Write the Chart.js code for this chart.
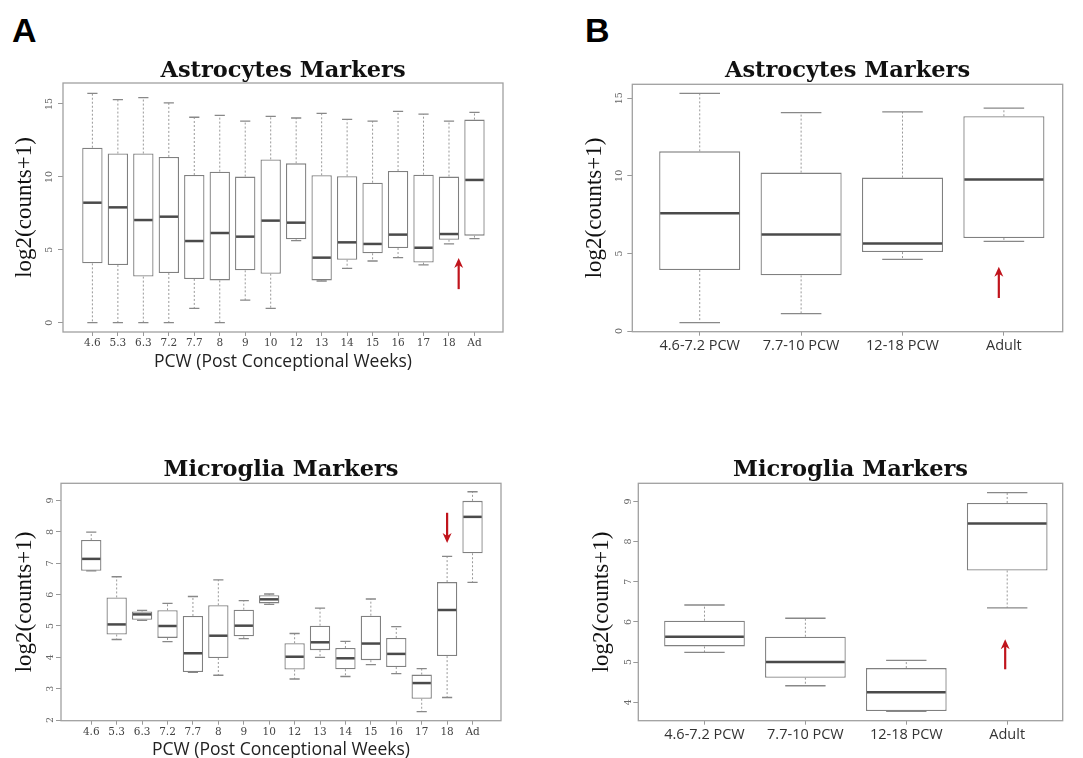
<!DOCTYPE html>
<html>
<head>
<meta charset="utf-8">
<script src="https://cdn.jsdelivr.net/npm/chart.js@4.4.0/dist/chart.umd.min.js"></script>
<style>
  body { margin: 0; background: #fff; width: 1083px; height: 758px; overflow: hidden; position: relative; }
  .panel { position: absolute; }
  .letter { position: absolute; font-family: "Liberation Sans", Arial, sans-serif; font-weight: bold; font-size: 34px; line-height: 1; color: #000; }
</style>
</head>
<body>
<div class="letter" style="left:12px;top:13px;">A</div>
<div class="letter" style="left:585px;top:13px;">B</div>

<div class="panel" style="left:0px;top:50px;width:520px;height:325px;"><canvas id="astroWeek"></canvas></div>
<div class="panel" style="left:565px;top:50px;width:518px;height:325px;"><canvas id="astroGroup"></canvas></div>
<div class="panel" style="left:0px;top:440px;width:520px;height:325px;"><canvas id="microWeek"></canvas></div>
<div class="panel" style="left:565px;top:440px;width:518px;height:325px;"><canvas id="microGroup"></canvas></div>

<script>
// categories
const weekLabels = ['4.6', '5.3', '6.3', '7.2', '7.7', '8', '9', '10', '12', '13', '14', '15', '16', '17', '18', 'Ad'];
const groupLabels = ['4.6-7.2 PCW', '7.7-10 PCW', '12-18 PCW', 'Adult'];

// Astrocytes, per week: whisker low, Q1, median, Q3, whisker high
const astroWeekLow  = [0, 0, 0, 0, 0.98, 0, 1.55, 0.98, 5.63, 2.86, 3.73, 4.23, 4.46, 3.96, 5.40, 5.76];
const astroWeekQ1   = [4.07, 3.96, 3.16, 3.41, 3.00, 2.90, 3.59, 3.36, 5.72, 2.90, 4.32, 4.76, 5.12, 4.12, 5.69, 5.97];
const astroWeekMed  = [8.23, 7.91, 7.04, 7.27, 5.60, 6.15, 5.90, 7.00, 6.86, 4.46, 5.51, 5.40, 6.04, 5.14, 6.08, 9.79];
const astroWeekQ3   = [12.0, 11.6, 11.6, 11.37, 10.13, 10.36, 10.02, 11.2, 10.93, 10.11, 10.04, 9.60, 10.40, 10.15, 10.02, 13.93];
const astroWeekHigh = [15.73, 15.3, 15.44, 15.07, 14.09, 14.22, 13.83, 14.15, 14.04, 14.36, 13.95, 13.83, 14.50, 14.31, 13.83, 14.43];

// Astrocytes, per group
const astroGroupLow  = [0.54, 1.12, 4.62, 5.78];
const astroGroupQ1   = [3.93, 3.59, 5.09, 6.00];
const astroGroupMed  = [7.59, 6.23, 5.65, 9.76];
const astroGroupQ3   = [11.58, 10.21, 9.89, 13.84];
const astroGroupHigh = [15.32, 14.08, 14.12, 14.36];

// Microglia, per week
const microWeekLow  = [6.76, 4.57, 5.18, 4.50, 3.52, 3.43, 4.60, 5.69, 3.31, 4.00, 3.39, 3.77, 3.48, 2.27, 2.72, 6.39];
const microWeekQ1   = [6.76, 4.73, 5.20, 4.62, 3.53, 3.98, 4.67, 5.72, 3.61, 4.23, 3.62, 3.91, 3.69, 2.68, 4.04, 7.32];
const microWeekMed  = [7.14, 5.05, 5.37, 5.00, 4.13, 4.69, 5.01, 5.85, 4.02, 4.48, 3.97, 4.44, 4.11, 3.18, 5.51, 8.48];
const microWeekQ3   = [7.74, 5.91, 5.46, 5.50, 5.32, 5.66, 5.52, 5.98, 4.45, 5.01, 4.30, 5.33, 4.62, 3.45, 6.40, 8.99];
const microWeekHigh = [7.99, 6.57, 5.50, 5.72, 5.94, 6.47, 5.81, 6.02, 4.76, 5.57, 4.51, 5.86, 4.98, 3.64, 7.22, 9.28];

// Microglia, per group
const microGroupLow  = [5.24, 4.41, 3.77, 6.35];
const microGroupQ1   = [5.39, 4.61, 3.78, 7.28];
const microGroupMed  = [5.63, 5.00, 4.25, 8.45];
const microGroupQ3   = [6.03, 5.63, 4.85, 8.96];
const microGroupHigh = [6.42, 6.09, 5.04, 9.22];

// tick labels
const astroTicks = [0, 5, 10, 15];
const microWeekTicks = [2, 3, 4, 5, 6, 7, 8, 9];
const microGroupTicks = [4, 5, 6, 7, 8, 9];

const serif = '"DejaVu Serif", "Liberation Serif", serif';
const yTitleFont = { family: '"Liberation Serif", "DejaVu Serif", serif', size: 23 };
const mainTitleFont = { family: '"DejaVu Serif", serif', size: 22.5, weight: 'bold', lineHeight: 1 };

// whiskers, caps and medians on top of the floating bars
const boxPlugin = {
    id: 'boxWhiskers',
    afterDatasetsDraw(chart) {
        const ctx = chart.ctx;
        const y = chart.scales.y;
        const ds = chart.data.datasets[0];
        const meta = chart.getDatasetMeta(0);
        ctx.save();
        meta.data.forEach((bar, i) => {
            const half = bar.width / 2;
            const yLow = y.getPixelForValue(ds.low[i]);
            const yHigh = y.getPixelForValue(ds.high[i]);
            const yQ1 = y.getPixelForValue(ds.data[i].y[0]);
            const yQ3 = y.getPixelForValue(ds.data[i].y[1]);
            const yMed = y.getPixelForValue(ds.med[i]);

            ctx.strokeStyle = '#999';
            ctx.lineWidth = 1;
            ctx.setLineDash([2, 2]);
            ctx.beginPath();
            ctx.moveTo(bar.x, yQ3); ctx.lineTo(bar.x, yHigh);
            ctx.moveTo(bar.x, yQ1); ctx.lineTo(bar.x, yLow);
            ctx.stroke();

            ctx.setLineDash([]);
            ctx.strokeStyle = '#888';
            ctx.lineWidth = 1.3;
            ctx.beginPath();
            ctx.moveTo(bar.x - half / 2, yHigh); ctx.lineTo(bar.x + half / 2, yHigh);
            ctx.moveTo(bar.x - half / 2, yLow); ctx.lineTo(bar.x + half / 2, yLow);
            ctx.stroke();

            ctx.strokeStyle = '#4a4a4a';
            ctx.lineWidth = 2.5;
            ctx.beginPath();
            ctx.moveTo(bar.x - half + 1, yMed); ctx.lineTo(bar.x + half - 1, yMed);
            ctx.stroke();
        });
        ctx.restore();
    }
};

// frame round the plot area and the red arrow
const framePlugin = {
    id: 'frameArrow',
    afterDraw(chart) {
        const ctx = chart.ctx;
        const a = chart.chartArea;
        ctx.save();
        ctx.strokeStyle = '#a0a0a0';
        ctx.lineWidth = 1.3;
        ctx.strokeRect(a.left, a.top, a.right - a.left, a.bottom - a.top);

        const arrow = chart.options.plugins.frameArrow.arrow;
        if (arrow) {
            const x = chart.scales.x.getPixelForValue(arrow.x);
            const y0 = chart.scales.y.getPixelForValue(arrow.from);
            const y1 = chart.scales.y.getPixelForValue(arrow.to);
            const dir = y1 < y0 ? 1 : -1;
            ctx.strokeStyle = '#c0141c';
            ctx.fillStyle = '#c0141c';
            ctx.lineWidth = 2.2;
            ctx.beginPath();
            ctx.moveTo(x, y0);
            ctx.lineTo(x, y1 + dir * 6);
            ctx.stroke();
            ctx.beginPath();
            ctx.moveTo(x, y1);
            ctx.lineTo(x - 4.5, y1 + dir * 10);
            ctx.lineTo(x, y1 + dir * 7);
            ctx.lineTo(x + 4.5, y1 + dir * 10);
            ctx.closePath();
            ctx.fill();
        }
        ctx.restore();
    }
};

function makeBoxChart(id, p) {
    const ctx = document.getElementById(id).getContext('2d');
    return new Chart(ctx, {
        type: 'bar',
        data: {
            datasets: [{
                data: p.labels.map((_, i) => ({ x: i + 1, y: [p.q1[i], p.q3[i]] })),
                low: p.low,
                med: p.med,
                high: p.high,
                backgroundColor: '#ffffff',
                borderColor: '#808080',
                borderWidth: 1.3,
                borderSkipped: false,
                barPercentage: 0.8,
                categoryPercentage: 1
            }]
        },
        options: {
            responsive: true,
            maintainAspectRatio: false,
            animation: false,
            layout: { padding: { left: 0, right: p.padRight, top: 0, bottom: p.padBottom } },
            plugins: {
                legend: { display: false },
                tooltip: { enabled: false },
                title: {
                    display: true,
                    text: p.title,
                    fullSize: false,
                    font: mainTitleFont,
                    color: '#111',
                    padding: { top: p.titleTop, bottom: p.titleBottom }
                },
                frameArrow: { arrow: p.arrow }
            },
            scales: {
                x: {
                    type: 'linear',
                    offset: false,
                    min: p.xMin,
                    max: p.xMax,
                    afterBuildTicks: s => { s.ticks = p.labels.map((_, i) => ({ value: i + 1 })); },
                    afterFit: s => { s.height = p.xHeight; },
                    ticks: {
                        autoSkip: false,
                        maxRotation: 0,
                        padding: 1,
                        color: p.xTickColor,
                        font: p.xTickFont,
                        callback: (v, i) => p.labels[i]
                    },
                    grid: { offset: false, drawOnChartArea: false, drawTicks: true, tickLength: 4, color: '#999' },
                    border: { display: false },
                    title: p.xTitle ? {
                        display: true,
                        text: p.xTitle,
                        color: '#222',
                        font: { family: '"Open Sans", sans-serif', size: 17.5 },
                        padding: { top: 0, bottom: 2 }
                    } : { display: false }
                },
                y: {
                    min: p.yMin,
                    max: p.yMax,
                    afterBuildTicks: s => { s.ticks = p.yTicks.map(v => ({ value: v })); },
                    afterFit: s => { s.width = p.yWidth; },
                    ticks: {
                        minRotation: 90,
                        maxRotation: 90,
                        crossAlign: 'center',
                        padding: 2,
                        color: '#666',
                        font: { family: serif, size: 9.5 }
                    },
                    grid: { drawOnChartArea: false, drawTicks: true, tickLength: 5, color: '#999' },
                    border: { display: false },
                    title: {
                        display: true,
                        text: 'log2(counts+1)',
                        color: '#111',
                        font: yTitleFont,
                        padding: { top: p.yTitlePad, bottom: 0 }
                    }
                }
            }
        },
        plugins: [boxPlugin, framePlugin]
    });
}

const weekTickFont = { family: serif, size: 10.5 };
const groupTickFont = { family: '"Open Sans", sans-serif', size: 14.5 };

makeBoxChart('astroWeek', {
    title: 'Astrocytes Markers', labels: weekLabels,
    low: astroWeekLow, q1: astroWeekQ1, med: astroWeekMed, q3: astroWeekQ3, high: astroWeekHigh,
    yTicks: astroTicks, yMin: -0.64, yMax: 16.44, xMin: -0.154, xMax: 17.12,
    titleTop: 9.75, titleBottom: 0.75, yWidth: 63, yTitlePad: 11.2, xHeight: 42.8, padBottom: 0.2, padRight: 17,
    xTickFont: weekTickFont, xTickColor: '#444', xTitle: 'PCW (Post Conceptional Weeks)',
    arrow: { x: 15.38, from: 2.3, to: 4.44 }
});

makeBoxChart('astroGroup', {
    title: 'Astrocytes Markers', labels: groupLabels,
    low: astroGroupLow, q1: astroGroupQ1, med: astroGroupMed, q3: astroGroupQ3, high: astroGroupHigh,
    yTicks: astroTicks, yMin: -0.04, yMax: 15.9, xMin: 0.335, xMax: 4.58,
    titleTop: 9.45, titleBottom: 2.35, yWidth: 67.3, yTitlePad: 16.2, xHeight: 30, padBottom: 13.3, padRight: 20.3,
    xTickFont: groupTickFont, xTickColor: '#333', xTitle: null,
    arrow: { x: 3.95, from: 2.13, to: 4.15 }
});

makeBoxChart('microWeek', {
    title: 'Microglia Markers', labels: weekLabels,
    low: microWeekLow, q1: microWeekQ1, med: microWeekMed, q3: microWeekQ3, high: microWeekHigh,
    yTicks: microWeekTicks, yMin: 1.98, yMax: 9.55, xMin: -0.19, xMax: 17.12,
    titleTop: 18.75, titleBottom: 2.05, yWidth: 61, yTitlePad: 11.2, xHeight: 42.1, padBottom: 2.2, padRight: 19,
    xTickFont: weekTickFont, xTickColor: '#444', xTitle: 'PCW (Post Conceptional Weeks)',
    arrow: { x: 15, from: 8.61, to: 7.65 }
});

makeBoxChart('microGroup', {
    title: 'Microglia Markers', labels: groupLabels,
    low: microGroupLow, q1: microGroupQ1, med: microGroupMed, q3: microGroupQ3, high: microGroupHigh,
    yTicks: microGroupTicks, yMin: 3.54, yMax: 9.45, xMin: 0.344, xMax: 4.55,
    titleTop: 18.75, titleBottom: 2.05, yWidth: 73.3, yTitlePad: 22.9, xHeight: 30, padBottom: 14.3, padRight: 20.3,
    xTickFont: groupTickFont, xTickColor: '#333', xTitle: null,
    arrow: { x: 3.98, from: 4.82, to: 5.57 }
});
</script>
</body>
</html>
